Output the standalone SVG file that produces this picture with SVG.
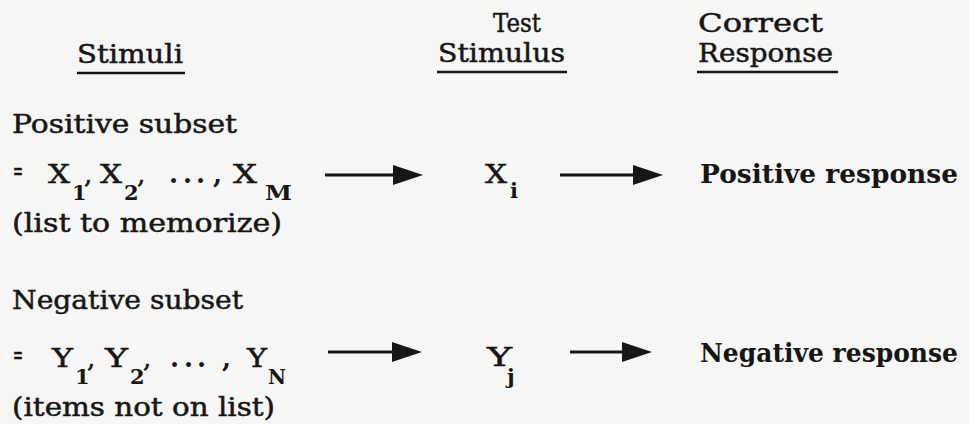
<svg xmlns="http://www.w3.org/2000/svg" width="969" height="424" viewBox="0 0 969 424">
<style>
text{font-family:"DejaVu Serif","Liberation Serif",serif;fill:#161616;font-size:26px;stroke:#161616;stroke-width:0.5}
.sub{font-size:21px;font-weight:bold;stroke-width:0}
.resp{font-weight:bold;stroke-width:0}
.dots{font-weight:bold;stroke-width:0}
.ul{stroke:#161616;stroke-width:2.5}
.conn{stroke:#161616;stroke-width:3;fill:none}
</style>
<defs>
<marker id="head" markerUnits="userSpaceOnUse" markerWidth="30" markerHeight="20" viewBox="0 0 30 20" refX="0" refY="10" orient="auto">
<path d="M0,0 L30,10 L0,20 Z" fill="#161616"/>
</marker>
</defs>
<rect width="969" height="424" fill="#f6f6f4"/>
<g id="headers">
<text x="77" y="63" textLength="106" lengthAdjust="spacingAndGlyphs">Stimuli</text>
<line class="ul" x1="77" y1="73" x2="185" y2="73"/>
<text x="493" y="32" textLength="48" lengthAdjust="spacingAndGlyphs">Test</text>
<text x="438" y="62" textLength="127" lengthAdjust="spacingAndGlyphs">Stimulus</text>
<line class="ul" x1="437" y1="72" x2="567" y2="72"/>
<text x="698" y="32" textLength="125" lengthAdjust="spacingAndGlyphs">Correct</text>
<text x="698" y="62" textLength="135" lengthAdjust="spacingAndGlyphs">Response</text>
<line class="ul" x1="697" y1="72" x2="838" y2="72"/>
</g>
<g id="positive-subset">
<text x="12" y="133" textLength="225" lengthAdjust="spacingAndGlyphs">Positive subset</text>
<text x="13" y="180" font-size="18" textLength="10" lengthAdjust="spacingAndGlyphs">=</text>
<text x="48" y="183" textLength="22" lengthAdjust="spacingAndGlyphs">X</text>
<text class="sub" x="72" y="200">1</text>
<text x="84" y="183">,</text>
<text x="100" y="183" textLength="22" lengthAdjust="spacingAndGlyphs">X</text>
<text class="sub" x="124" y="200">2</text>
<text x="137" y="183">,</text>
<text class="dots" x="169 183 196 213" y="183">...,</text>
<text x="233" y="183" textLength="24" lengthAdjust="spacingAndGlyphs">X</text>
<text class="sub" x="265" y="200" textLength="27" lengthAdjust="spacingAndGlyphs">M</text>
<text x="12" y="232" textLength="270" lengthAdjust="spacingAndGlyphs">(list to memorize)</text>
</g>
<g id="test-xi">
<text x="485" y="183" textLength="22" lengthAdjust="spacingAndGlyphs">X</text>
<text class="sub" x="510" y="198">i</text>
</g>
<g id="positive-response">
<text class="resp" x="700" y="183" textLength="258" lengthAdjust="spacingAndGlyphs">Positive response</text>
</g>
<g id="negative-subset">
<text x="12" y="309" textLength="231" lengthAdjust="spacingAndGlyphs">Negative subset</text>
<text x="13" y="364" font-size="18" textLength="10" lengthAdjust="spacingAndGlyphs">=</text>
<text x="52" y="367" textLength="21" lengthAdjust="spacingAndGlyphs">Y</text>
<text class="sub" x="75" y="384">1</text>
<text x="87" y="367">,</text>
<text x="105" y="367" textLength="23" lengthAdjust="spacingAndGlyphs">Y</text>
<text class="sub" x="130" y="384">2</text>
<text x="143" y="367">,</text>
<text class="dots" x="170 184 197 222" y="367">...,</text>
<text x="247" y="367" textLength="20" lengthAdjust="spacingAndGlyphs">Y</text>
<text class="sub" x="268" y="384" textLength="18" lengthAdjust="spacingAndGlyphs">N</text>
<text x="12" y="416" textLength="263" lengthAdjust="spacingAndGlyphs">(items not on list)</text>
</g>
<g id="test-yj">
<text x="487" y="366" textLength="25" lengthAdjust="spacingAndGlyphs">Y</text>
<text class="sub" x="507" y="384">j</text>
</g>
<g id="negative-response">
<text class="resp" x="700" y="362" textLength="258" lengthAdjust="spacingAndGlyphs">Negative response</text>
</g>
<g id="connectors">
<line class="conn" x1="325" y1="175" x2="393" y2="175" marker-end="url(#head)"/>
<line class="conn" x1="560" y1="175" x2="633" y2="175" marker-end="url(#head)"/>
<line class="conn" x1="328" y1="352" x2="392" y2="352" marker-end="url(#head)"/>
<line class="conn" x1="570" y1="352" x2="622" y2="352" marker-end="url(#head)"/>
</g>
</svg>
